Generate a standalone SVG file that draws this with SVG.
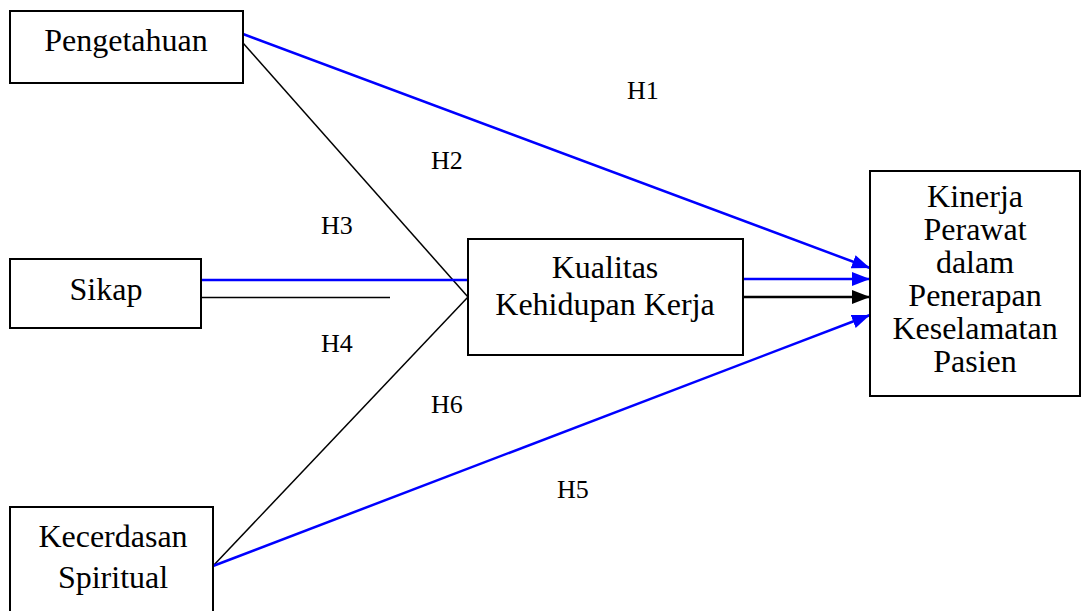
<svg xmlns="http://www.w3.org/2000/svg" width="1081" height="611" viewBox="0 0 1081 611">
  <style>
    .box { fill: #fff; stroke: #000; stroke-width: 2; }
    .lbl { font-family: "Liberation Serif", "Times New Roman", serif; font-size: 32px; fill: #000; text-anchor: middle; }
    .hyp { font-family: "Liberation Serif", "Times New Roman", serif; font-size: 26px; fill: #000; }
    .blue { stroke: #0000ff; stroke-width: 2.5; fill: none; }
    .black { stroke: #000; stroke-width: 1.5; fill: none; }
    .black-bold { stroke: #000; stroke-width: 2.5; fill: none; }
  </style>
  <defs>
    <marker id="arrowBlue" viewBox="0 0 18 14" refX="18" refY="7" markerUnits="userSpaceOnUse" markerWidth="18" markerHeight="14" orient="auto">
      <path d="M0,0 L18,7 L0,14 Z" fill="#0000ff"/>
    </marker>
    <marker id="arrowBlack" viewBox="0 0 18 14" refX="18" refY="7" markerUnits="userSpaceOnUse" markerWidth="18" markerHeight="14" orient="auto">
      <path d="M0,0 L18,7 L0,14 Z" fill="#000"/>
    </marker>
  </defs>

  <!-- connectors -->
  <g id="connectors">
    <line class="blue" x1="243" y1="34" x2="870" y2="268" marker-end="url(#arrowBlue)"/>
    <line class="black" x1="243" y1="43" x2="468" y2="297"/>
    <line class="blue" x1="201" y1="280" x2="468" y2="280"/>
    <line class="black" x1="193" y1="297.5" x2="390" y2="297.5"/>
    <line class="black" x1="213" y1="566" x2="468" y2="297"/>
    <line class="blue" x1="213" y1="566" x2="870" y2="315" marker-end="url(#arrowBlue)"/>
    <line class="blue" x1="743" y1="279" x2="870" y2="279" marker-end="url(#arrowBlue)"/>
    <line class="black-bold" x1="743" y1="297" x2="870" y2="297" marker-end="url(#arrowBlack)"/>
  </g>

  <!-- hypothesis labels -->
  <g id="labels">
    <text class="hyp" x="627" y="99">H1</text>
    <text class="hyp" x="431" y="169">H2</text>
    <text class="hyp" x="321" y="234">H3</text>
    <text class="hyp" x="321" y="352">H4</text>
    <text class="hyp" x="557" y="498">H5</text>
    <text class="hyp" x="431" y="413">H6</text>
  </g>

  <g id="pengetahuan">
    <rect class="box" x="10" y="11" width="233" height="72"/>
    <text class="lbl" x="126" y="51">Pengetahuan</text>
  </g>

  <g id="sikap">
    <rect class="box" x="10" y="259" width="191" height="69"/>
    <text class="lbl" x="106" y="300">Sikap</text>
  </g>

  <g id="kecerdasan-spiritual">
    <rect class="box" x="10" y="507" width="203" height="110"/>
    <text class="lbl" x="113" y="547">Kecerdasan</text>
    <text class="lbl" x="113" y="588">Spiritual</text>
  </g>

  <g id="kualitas-kehidupan-kerja">
    <rect class="box" x="468" y="239" width="275" height="116"/>
    <text class="lbl" x="605" y="278">Kualitas</text>
    <text class="lbl" x="605" y="315">Kehidupan Kerja</text>
  </g>

  <g id="kinerja-perawat">
    <rect class="box" x="870" y="171" width="210" height="225"/>
    <text class="lbl" x="975" y="207">Kinerja</text>
    <text class="lbl" x="975" y="240">Perawat</text>
    <text class="lbl" x="975" y="273">dalam</text>
    <text class="lbl" x="975" y="306">Penerapan</text>
    <text class="lbl" x="975" y="339">Keselamatan</text>
    <text class="lbl" x="975" y="372">Pasien</text>
  </g>
</svg>
